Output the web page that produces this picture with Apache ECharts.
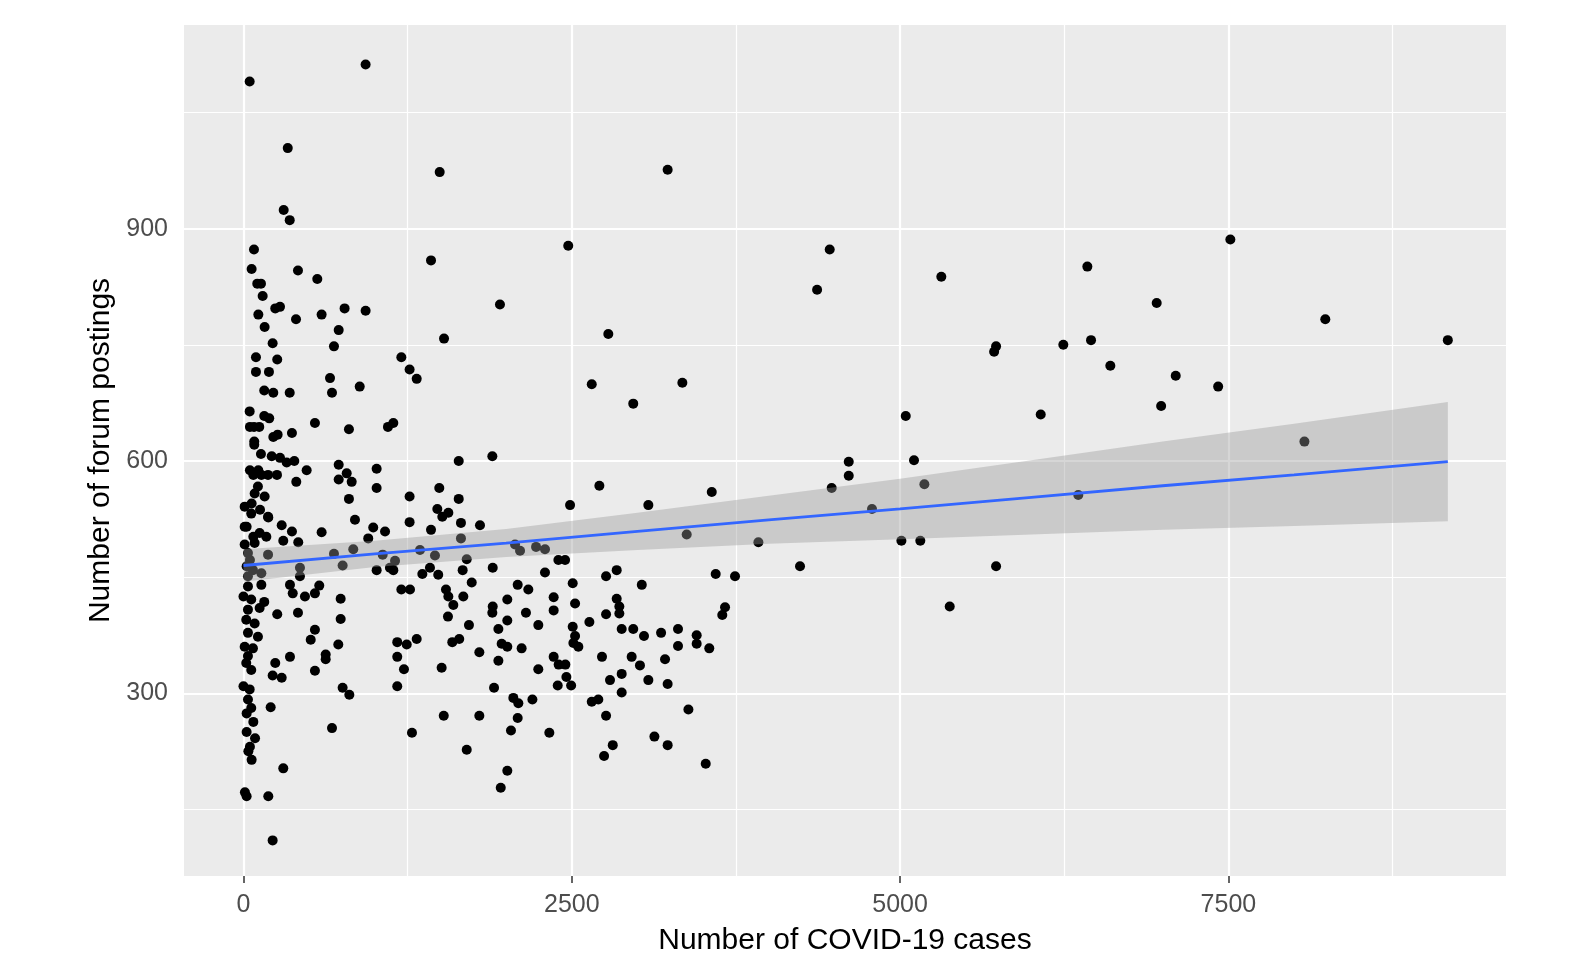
<!DOCTYPE html>
<html>
<head>
<meta charset="utf-8">
<script src="https://cdn.jsdelivr.net/npm/echarts/dist/echarts.min.js"></script>
<style>
html,body{margin:0;padding:0;background:#fff;}
#chart{width:1576px;height:955px;}
</style>
</head>
<body>
<div id="chart"></div>
<script>
// ---- observations: [COVID-19 cases, forum postings] ----
const ptsUpper = [[47,1090],[930,1112],[337,1004],[1494,973],[306,924],[352,911],[80,873],[62,848],[415,846],[562,835],[1428,859],[105,829],[133,829],[146,813],[242,797],[278,799],[113,789],[400,783],[595,789],[770,797],[930,794],[161,773],[725,769],[1953,802],[1527,758],[222,752]];
const ptsUpperMid = [[689,748],[95,734],[257,731],[1202,734],[95,715],[194,715],[1265,718],[1319,706],[659,707],[674,688],[885,696],[158,691],[227,688],[352,688],[47,664],[158,658],[196,655],[49,644],[80,644],[120,644],[544,649],[803,641],[1100,644],[1141,649],[227,631],[260,634],[369,636],[82,625],[82,621],[133,609],[215,606],[278,604],[329,598],[387,600],[481,588],[255,582],[402,573],[725,595],[786,584],[824,573],[725,576],[1014,590],[1014,565],[803,551],[1639,600],[1895,606],[1491,565],[1639,551],[1265,554],[1265,521],[1476,538],[1514,528],[1560,533],[849,524],[595,508]];
const ptsLeftMid = [[49,588],[113,588],[75,582],[136,582],[187,582],[110,567],[85,558],[161,554],[9,541],[59,532],[187,528],[126,537],[9,515],[123,507],[174,502],[9,492],[85,494],[24,515],[49,472],[24,464],[75,502],[62,545],[34,481],[187,479],[72,459],[34,451],[136,455]];
const ptsMid = [[291,517],[369,509],[189,527],[303,497],[417,495],[988,514],[1078,509],[950,500],[1428,511],[1656,520],[1801,517],[1656,500],[430,462],[430,451],[689,480],[755,465],[836,486],[1060,479],[1154,471],[1014,459],[1115,462],[1141,459],[1344,485],[1458,478],[1362,454],[1420,462],[1483,453],[1669,459],[1700,473],[1898,462],[1738,443]];
const ptsLeftLow = [[34,438],[136,440],[0,425],[59,421],[34,408],[123,410],[21,395],[85,390],[34,378],[110,373],[9,360],[72,358],[34,348],[21,339],[59,330],[0,309],[47,305],[34,292],[59,281],[24,274],[75,263],[24,250],[88,242],[49,231],[37,225],[62,214],[11,172],[24,167],[354,440],[375,429],[468,425],[544,429],[577,439],[740,422],[158,418],[257,402],[415,404],[740,396],[544,382],[512,369],[722,363],[354,347],[626,350],[626,344],[242,339],[544,329],[222,323],[291,320],[755,307],[806,298],[207,282],[674,255],[303,203],[189,167],[222,110]];
const ptsLowMid = [[1202,434],[1268,434],[1542,434],[1560,425],[1598,414],[1674,425],[1898,412],[1171,366],[1243,363],[1319,370],[1171,347],[1222,331],[1171,309],[1283,249],[1557,399],[1717,388],[1590,366],[1643,370],[1509,333],[1796,353],[1908,307],[1525,271],[1796,271],[1700,227]];
const ptsRightMid = [[3230,976],[2473,878],[2778,764],[2652,699],[2968,674],[3342,701],[2710,568],[2487,543],[3083,543],[3566,560],[3375,505],[3921,495],[2068,492],[2106,484],[2228,489],[2296,486],[2398,472],[2449,472],[2296,456],[2507,442],[2088,440],[2169,434],[2761,451],[2842,459],[3033,440],[3596,454],[3743,451],[3667,411],[3646,401],[2009,421],[2362,424],[2362,407],[2525,416],[2842,422],[2862,412],[2862,403],[2761,402],[2151,404],[2009,394],[2245,388],[2507,386],[2525,374],[2512,365],[2550,360],[2634,392],[2880,383],[2968,383],[3050,374],[3180,378],[3309,383],[3451,375],[3451,364],[3547,358],[3309,361],[1966,364],[2009,360],[2118,358],[1941,342],[1941,383],[1895,404],[2362,347],[2400,337],[2451,337],[2245,331],[2730,347],[2956,347],[3019,336],[3210,344],[2459,321],[2495,310],[2393,310],[2791,317],[2880,325],[2880,301],[3083,317],[3230,312],[2055,294],[2093,287],[2200,292],[2652,289],[2702,292],[2088,268],[2761,271],[3388,279],[2037,252],[2329,249],[3129,244],[3230,233],[2746,219],[2812,233],[3520,209],[2009,200],[1959,178]];
const ptsHigh = [[4464,873],[4368,821],[5314,838],[5731,748],[5716,741],[5043,658],[6071,660],[4609,599],[4609,581],[5106,601],[4479,565],[5185,570],[4786,538],[5010,497],[5154,497],[4238,464],[5731,464],[5378,412],[7515,886],[6426,851],[6954,804],[8238,783],[6243,750],[6454,756],[9171,756],[6601,723],[7099,710],[7422,696],[6988,671],[8079,625],[6357,556]];

// ---- linear fit with confidence band ----
const fitX     = [0,   1000, 2000, 3000, 4000, 5000, 6000, 7000, 8000, 9171];
const fitY     = [465, 480,  494,  509,  524,  538,  553,  568,  582,  599];
const fitLower = [444, 463,  476,  485,  493,  499,  505,  511,  516,  522];
const fitUpper = [486, 497,  512,  533,  555,  577,  601,  625,  648,  676];

// ---- axes ----
const xTicks = [0, 2500, 5000, 7500];
const xMinor = [1250, 3750, 6250, 8750];
const yTicks = [300, 600, 900];
const yMinor = [150, 450, 750, 1050];
const xRange = [-453, 9614];
const yRange = [64, 1163];

const allPts = [].concat(ptsUpper, ptsUpperMid, ptsLeftMid, ptsMid, ptsLeftLow, ptsLowMid, ptsRightMid, ptsHigh);

const FONT = 'Liberation Sans, Arial, sans-serif';
const chart = echarts.init(document.getElementById('chart'), null, {renderer: 'canvas'});

const gridLines = [].concat(
  xTicks.map(v => ({xAxis: v, lineStyle: {width: 2.2}})),
  xMinor.map(v => ({xAxis: v, lineStyle: {width: 1.2}})),
  yTicks.map(v => ({yAxis: v, lineStyle: {width: 2.2}})),
  yMinor.map(v => ({yAxis: v, lineStyle: {width: 1.2}}))
);

chart.setOption({
  animation: false,
  backgroundColor: '#ffffff',
  grid: {
    left: 184, right: 70, top: 25, bottom: 79,
    containLabel: false, outerBoundsMode: 'none',
    show: true, backgroundColor: '#EBEBEB', borderWidth: 0
  },
  xAxis: {
    type: 'value', min: xRange[0], max: xRange[1],
    name: 'Number of COVID-19 cases', nameLocation: 'middle', nameGap: 50,
    nameTextStyle: {color: '#000', fontSize: 30, fontFamily: FONT},
    axisLine: {show: false},
    axisTick: {show: true, customValues: xTicks, length: 7, lineStyle: {color: '#333', width: 1.5}},
    axisLabel: {customValues: xTicks, color: '#4D4D4D', fontSize: 25, fontFamily: FONT, margin: 17,
      formatter: v => String(v)},
    splitLine: {show: false}
  },
  yAxis: {
    type: 'value', min: yRange[0], max: yRange[1],
    name: 'Number of forum postings', nameLocation: 'middle', nameGap: 62,
    nameTextStyle: {color: '#000', fontSize: 30, fontFamily: FONT},
    axisLine: {show: false},
    axisTick: {show: true, customValues: yTicks, length: 7, lineStyle: {color: '#333', width: 1.5}},
    axisLabel: {customValues: yTicks, color: '#4D4D4D', fontSize: 25, fontFamily: FONT, margin: 16,
      formatter: v => String(v)},
    splitLine: {show: false}
  },
  series: [
    {
      name: 'grid', type: 'scatter', data: [], z: 1, silent: true,
      markLine: {
        silent: true, z: 1, symbol: ['none', 'none'], label: {show: false},
        lineStyle: {color: '#ffffff', type: 'solid'},
        emphasis: {disabled: true},
        data: gridLines
      }
    },
    {
      name: 'observations', type: 'scatter', z: 2,
      symbol: 'circle', symbolSize: 10,
      itemStyle: {color: '#000000', opacity: 1},
      data: allPts
    },
    {
      name: 'band', type: 'custom', z: 3, silent: true,
      data: [[fitX[0], fitY[0]]],
      renderItem: function (params, api) {
        const upper = fitX.map((x, i) => api.coord([x, fitUpper[i]]));
        const lower = fitX.map((x, i) => api.coord([x, fitLower[i]])).reverse();
        return {
          type: 'polygon',
          shape: {points: upper.concat(lower)},
          style: {fill: 'rgba(153,153,153,0.4)'}
        };
      }
    },
    {
      name: 'fit', type: 'line', z: 4, symbol: 'none', silent: true,
      lineStyle: {color: '#3366FF', width: 2.8},
      data: fitX.map((x, i) => [x, fitY[i]])
    }
  ]
});
</script>
</body>
</html>
